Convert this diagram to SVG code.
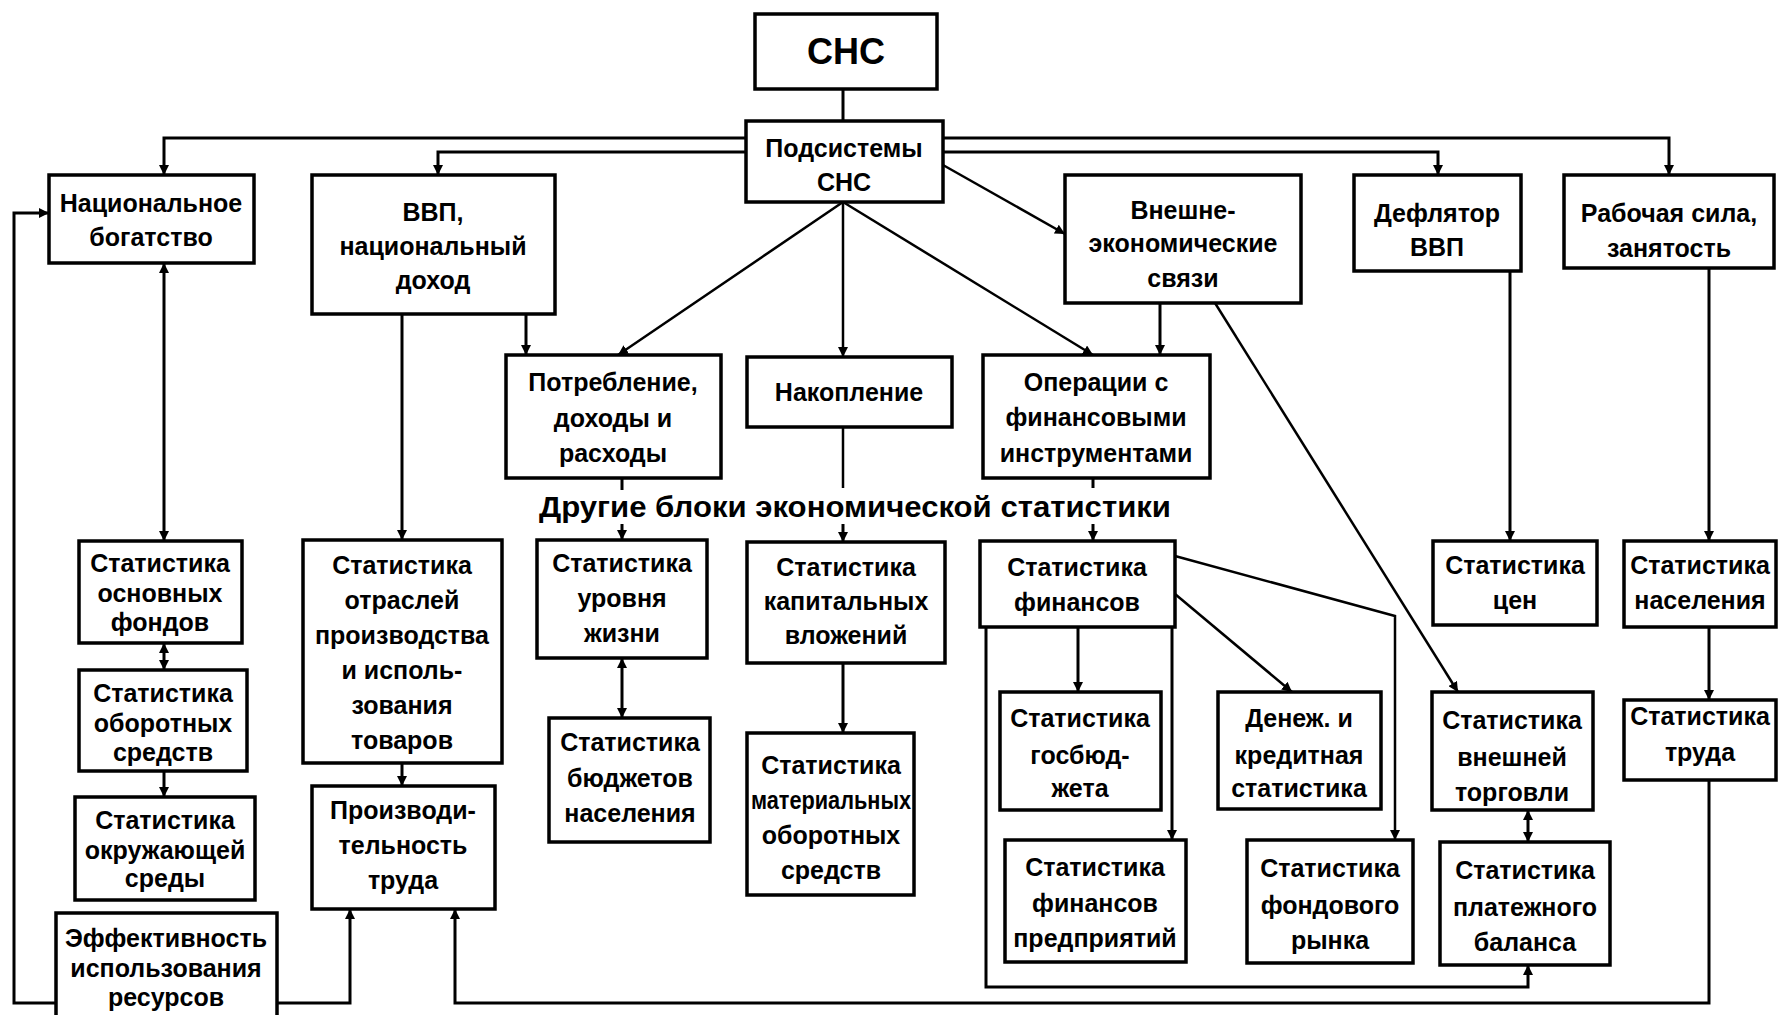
<svg xmlns="http://www.w3.org/2000/svg" width="1778" height="1015" viewBox="0 0 1778 1015">
<style>
.b{fill:#fff;stroke:#000;stroke-width:3.5}
.t{font-family:"Liberation Sans",Arial,sans-serif;font-weight:bold;font-size:25px;text-anchor:middle;fill:#000}
.c{fill:none;stroke:#000;stroke-width:3}
.d{fill:none;stroke:#000;stroke-width:2.5}
</style>
<defs>
<marker id="a" viewBox="0 0 10 10" refX="10" refY="5" markerWidth="10" markerHeight="10" markerUnits="userSpaceOnUse" orient="auto-start-reverse">
<path d="M0,0 L10,5 L0,10 Z" fill="#000"/>
</marker>
</defs>
<rect width="1778" height="1015" fill="#fff"/>
<g id="connectors">
<path class="c" d="M843,89 V121"/>
<path class="c" d="M746,138 H164 V175" marker-end="url(#a)"/>
<path class="c" d="M746,152 H438 V175" marker-end="url(#a)"/>
<path class="c" d="M943,138 H1669 V175" marker-end="url(#a)"/>
<path class="c" d="M943,152 H1438 V175" marker-end="url(#a)"/>
<path class="d" d="M943,165 L1065,234" marker-end="url(#a)"/>
<path class="d" d="M843,202 L618,355" marker-end="url(#a)"/>
<path class="d" d="M843,202 V357" marker-end="url(#a)"/>
<path class="d" d="M843,202 L1093,355" marker-end="url(#a)"/>
<path class="c" d="M526,314 V355" marker-end="url(#a)"/>
<path class="c" d="M402,314 V540" marker-end="url(#a)"/>
<path class="c" d="M164,263 V541" marker-start="url(#a)" marker-end="url(#a)"/>
<path class="c" d="M164,643 V670" marker-start="url(#a)" marker-end="url(#a)"/>
<path class="c" d="M164,771 V797" marker-end="url(#a)"/>
<path class="c" d="M56,1003 H14 V213 H49" marker-end="url(#a)"/>
<path class="c" d="M277,1003 H350 V909" marker-end="url(#a)"/>
<path class="c" d="M1709,780 V1003 H455 V909" marker-end="url(#a)"/>
<path class="c" d="M402,763 V786" marker-end="url(#a)"/>
<path class="c" d="M622,478 V490"/>
<path class="c" d="M622,524 V540" marker-end="url(#a)"/>
<path class="d" d="M843,427 V488"/>
<path class="c" d="M843,524 V542" marker-end="url(#a)"/>
<path class="c" d="M1093,478 V488"/>
<path class="c" d="M1093,524 V541" marker-end="url(#a)"/>
<path class="c" d="M622,658 V718" marker-start="url(#a)" marker-end="url(#a)"/>
<path class="c" d="M843,663 V733" marker-end="url(#a)"/>
<path class="c" d="M1160,303 V355" marker-end="url(#a)"/>
<path class="d" d="M1215,303 L1458,692" marker-end="url(#a)"/>
<path class="c" d="M1510,271 V541" marker-end="url(#a)"/>
<path class="c" d="M1709,268 V541" marker-end="url(#a)"/>
<path class="c" d="M1709,627 V700" marker-end="url(#a)"/>
<path class="c" d="M1078,627 V692" marker-end="url(#a)"/>
<path class="c" d="M1172,627 V840" marker-end="url(#a)"/>
<path class="d" d="M1175,556 L1395,616 V840" marker-end="url(#a)"/>
<path class="d" d="M1175,594 L1292,692" marker-end="url(#a)"/>
<path class="c" d="M986,627 V987 H1528 V965" marker-end="url(#a)"/>
<path class="c" d="M1528,810 V842" marker-start="url(#a)" marker-end="url(#a)"/>
</g>
<g id="sns"><rect class="b" x="755" y="14" width="182" height="75"/><text class="t" x="846" y="64" style="font-size:36px">СНС</text></g>
<g id="pod"><rect class="b" x="746" y="121" width="197" height="81"/><text class="t" x="844" y="157">Подсистемы</text><text class="t" x="844" y="191">СНС</text></g>
<g id="nat"><rect class="b" x="49" y="175" width="205" height="88"/><text class="t" x="151" y="212">Национальное</text><text class="t" x="151" y="246">богатство</text></g>
<g id="vvp"><rect class="b" x="312" y="175" width="243" height="139"/><text class="t" x="433" y="221">ВВП,</text><text class="t" x="433" y="255">национальный</text><text class="t" x="433" y="289">доход</text></g>
<g id="vnesh"><rect class="b" x="1065" y="175" width="236" height="128"/><text class="t" x="1183" y="219">Внешне-</text><text class="t" x="1183" y="252">экономические</text><text class="t" x="1183" y="287">связи</text></g>
<g id="defl"><rect class="b" x="1354" y="175" width="167" height="96"/><text class="t" x="1437" y="222">Дефлятор</text><text class="t" x="1437" y="256">ВВП</text></g>
<g id="rab"><rect class="b" x="1564" y="175" width="210" height="93"/><text class="t" x="1669" y="222">Рабочая сила,</text><text class="t" x="1669" y="257">занятость</text></g>
<g id="potr"><rect class="b" x="506" y="355" width="215" height="123"/><text class="t" x="613" y="391">Потребление,</text><text class="t" x="613" y="427">доходы и</text><text class="t" x="613" y="462">расходы</text></g>
<g id="nakop"><rect class="b" x="747" y="357" width="205" height="70"/><text class="t" x="849" y="401">Накопление</text></g>
<g id="oper"><rect class="b" x="983" y="355" width="227" height="123"/><text class="t" x="1096" y="391">Операции с</text><text class="t" x="1096" y="426">финансовыми</text><text class="t" x="1096" y="462">инструментами</text></g>
<g id="title"><text class="t" x="855" y="517" style="font-size:29px" textLength="632" lengthAdjust="spacingAndGlyphs">Другие блоки экономической статистики</text></g>
<g id="urov"><rect class="b" x="537" y="540" width="170" height="118"/><text class="t" x="622" y="572">Статистика</text><text class="t" x="622" y="607">уровня</text><text class="t" x="622" y="642">жизни</text></g>
<g id="kap"><rect class="b" x="747" y="542" width="198" height="121"/><text class="t" x="846" y="576">Статистика</text><text class="t" x="846" y="610">капитальных</text><text class="t" x="846" y="644">вложений</text></g>
<g id="fin"><rect class="b" x="980" y="541" width="195" height="86"/><text class="t" x="1077" y="576">Статистика</text><text class="t" x="1077" y="611">финансов</text></g>
<g id="osn"><rect class="b" x="79" y="541" width="163" height="102"/><text class="t" x="160" y="572">Статистика</text><text class="t" x="160" y="602">основных</text><text class="t" x="160" y="631">фондов</text></g>
<g id="otr"><rect class="b" x="303" y="540" width="199" height="223"/><text class="t" x="402" y="574">Статистика</text><text class="t" x="402" y="609">отраслей</text><text class="t" x="402" y="644">производства</text><text class="t" x="402" y="679">и исполь-</text><text class="t" x="402" y="714">зования</text><text class="t" x="402" y="749">товаров</text></g>
<g id="oborot"><rect class="b" x="79" y="670" width="168" height="101"/><text class="t" x="163" y="702">Статистика</text><text class="t" x="163" y="732">оборотных</text><text class="t" x="163" y="761">средств</text></g>
<g id="okr"><rect class="b" x="75" y="797" width="180" height="103"/><text class="t" x="165" y="829">Статистика</text><text class="t" x="165" y="859">окружающей</text><text class="t" x="165" y="887">среды</text></g>
<g id="eff"><rect class="b" x="56" y="913" width="221" height="110"/><text class="t" x="166" y="947">Эффективность</text><text class="t" x="166" y="977">использования</text><text class="t" x="166" y="1006">ресурсов</text></g>
<g id="proizv"><rect class="b" x="312" y="786" width="183" height="123"/><text class="t" x="403" y="819">Производи-</text><text class="t" x="403" y="854">тельность</text><text class="t" x="403" y="889">труда</text></g>
<g id="budg"><rect class="b" x="549" y="718" width="161" height="124"/><text class="t" x="630" y="751">Статистика</text><text class="t" x="630" y="787">бюджетов</text><text class="t" x="630" y="822">населения</text></g>
<g id="mater"><rect class="b" x="747" y="733" width="167" height="162"/><text class="t" x="831" y="774">Статистика</text><text class="t" x="831" y="809" textLength="160" lengthAdjust="spacingAndGlyphs">материальных</text><text class="t" x="831" y="844">оборотных</text><text class="t" x="831" y="879">средств</text></g>
<g id="gosb"><rect class="b" x="1000" y="692" width="161" height="118"/><text class="t" x="1080" y="727">Статистика</text><text class="t" x="1080" y="764">госбюд-</text><text class="t" x="1080" y="797">жета</text></g>
<g id="denezh"><rect class="b" x="1218" y="692" width="163" height="117"/><text class="t" x="1299" y="727">Денеж. и</text><text class="t" x="1299" y="764">кредитная</text><text class="t" x="1299" y="797">статистика</text></g>
<g id="vneshtorg"><rect class="b" x="1432" y="692" width="161" height="118"/><text class="t" x="1512" y="729">Статистика</text><text class="t" x="1512" y="766">внешней</text><text class="t" x="1512" y="801">торговли</text></g>
<g id="trud"><rect class="b" x="1624" y="700" width="152" height="80"/><text class="t" x="1700" y="725">Статистика</text><text class="t" x="1700" y="761">труда</text></g>
<g id="finpred"><rect class="b" x="1005" y="840" width="181" height="122"/><text class="t" x="1095" y="876">Статистика</text><text class="t" x="1095" y="912">финансов</text><text class="t" x="1095" y="947">предприятий</text></g>
<g id="fond"><rect class="b" x="1247" y="840" width="166" height="123"/><text class="t" x="1330" y="877">Статистика</text><text class="t" x="1330" y="914">фондового</text><text class="t" x="1330" y="949">рынка</text></g>
<g id="plat"><rect class="b" x="1440" y="842" width="170" height="123"/><text class="t" x="1525" y="879">Статистика</text><text class="t" x="1525" y="916">платежного</text><text class="t" x="1525" y="951">баланса</text></g>
<g id="cen"><rect class="b" x="1433" y="541" width="164" height="84"/><text class="t" x="1515" y="574">Статистика</text><text class="t" x="1515" y="609">цен</text></g>
<g id="naselen"><rect class="b" x="1624" y="541" width="152" height="86"/><text class="t" x="1700" y="574">Статистика</text><text class="t" x="1700" y="609">населения</text></g>
</svg>
